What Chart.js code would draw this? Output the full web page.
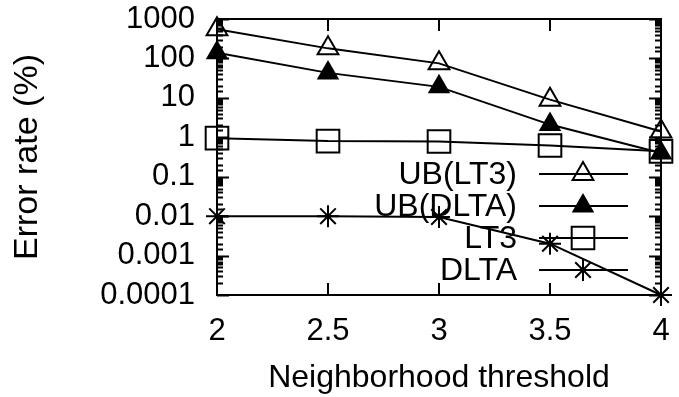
<!DOCTYPE html>
<html>
<head>
<meta charset="utf-8">
<style>
  html, body { margin: 0; padding: 0; background: #fff; }
</style>
<script src="https://cdn.jsdelivr.net/npm/chart.js@4.4.1/dist/chart.umd.min.js"></script>
</head>
<body>
<canvas id="chartLoi" width="679" height="397"></canvas>
<script>
// du lieu doc tu hinh
const nguong = [2, 2.5, 3, 3.5, 4];
const ubLT3 = [550, 180, 75, 9, 1.4];
const ubDLTA = [140, 43, 19, 2.1, 0.4];
const lt3 = [0.95, 0.8, 0.78, 0.62, 0.44];
const dlta = [0.01, 0.01, 0.0095, 0.002, 0.0001];
const xTicks = [2, 2.5, 3, 3.5, 4];
const yTicks = [0.0001, 0.001, 0.01, 0.1, 1, 10, 100, 1000];

const phong = '"Liberation Sans", Arial, sans-serif';

function laMuc(v) {
    return yTicks.some(t => Math.abs(Math.log10(v) - Math.log10(t)) < 1e-6);
}

function taoDiem(ys) {
    return nguong.map((x, i) => ({ x: x, y: ys[i] }));
}

function taoDuong(nhan, ys, kieu, r, nen) {
    return {
        label: nhan,
        data: taoDiem(ys),
        borderColor: '#000',
        borderWidth: 2,
        pointStyle: kieu,
        pointRadius: r,
        pointHoverRadius: r,
        pointBorderWidth: 2,
        pointBorderColor: '#000',
        pointBackgroundColor: nen,
        clip: false,
        tension: 0
    };
}

// khung va vach chia huong vao trong
const khungPlugin = {
    id: 'khung',
    beforeDatasetsDraw(chart) {
        const { ctx, chartArea: a, scales: { x, y } } = chart;
        ctx.save();
        ctx.strokeStyle = '#000';
        ctx.lineWidth = 2;
        ctx.strokeRect(a.left, a.top, a.right - a.left, a.bottom - a.top);
        ctx.beginPath();
        xTicks.forEach(v => {
            const px = x.getPixelForValue(v);
            ctx.moveTo(px, a.bottom); ctx.lineTo(px, a.bottom - 12);
            ctx.moveTo(px, a.top); ctx.lineTo(px, a.top + 12);
        });
        y.ticks.forEach(t => {
            const py = Math.round(y.getPixelForValue(t.value)) + 0.5;
            const len = laMuc(t.value) ? 12 : 6;
            ctx.moveTo(a.left, py); ctx.lineTo(a.left + len, py);
            ctx.moveTo(a.right, py); ctx.lineTo(a.right - len, py);
        });
        ctx.stroke();
        ctx.restore();
    }
};

// chu giai: chu can phai, sau do la doan thang co diem
const chuGiaiPlugin = {
    id: 'chuGiai',
    afterDatasetsDraw(chart) {
        const ctx = chart.ctx;
        ctx.save();
        ctx.font = '32px ' + phong;
        ctx.textAlign = 'right';
        ctx.textBaseline = 'middle';
        chart.data.datasets.forEach((ds, i) => {
            const yy = 174 + i * 32;
            ctx.fillStyle = '#000';
            ctx.fillText(ds.label, 517, yy + 1);
            ctx.strokeStyle = '#000';
            ctx.lineWidth = 2;
            ctx.beginPath();
            ctx.moveTo(539, yy);
            ctx.lineTo(628, yy);
            ctx.stroke();
            ctx.fillStyle = ds.pointBackgroundColor;
            Chart.helpers.drawPoint(ctx, {
                pointStyle: ds.pointStyle,
                radius: ds.pointRadius,
                borderWidth: 2,
                rotation: 0
            }, 583, yy);
        });
        ctx.restore();
    }
};

const ctxLoi = document.getElementById('chartLoi');
new Chart(ctxLoi, {
    type: 'line',
    data: {
        datasets: [
            taoDuong('UB(LT3)', ubLT3, 'triangle', 12, 'rgba(0,0,0,0)'),
            taoDuong('UB(DLTA)', ubDLTA, 'triangle', 11, '#000'),
            taoDuong('LT3', lt3, 'rect', 16, 'rgba(0,0,0,0)'),
            taoDuong('DLTA', dlta, 'star', 11, 'rgba(0,0,0,0)')
        ]
    },
    options: {
        responsive: false,
        devicePixelRatio: 1,
        animation: false,
        layout: { padding: { left: 0, right: 11, top: 19, bottom: 0 } },
        plugins: {
            legend: { display: false },
            tooltip: { enabled: false }
        },
        scales: {
            x: {
                type: 'linear',
                min: 2,
                max: 4,
                afterFit: s => { s.height = 102; s.paddingLeft = 0; s.paddingRight = 0; },
                afterBuildTicks: s => { s.ticks = xTicks.map(v => ({ value: v })); },
                grid: { display: false, drawTicks: false },
                border: { display: false },
                ticks: {
                    padding: 18,
                    color: '#000',
                    font: { family: phong, size: 31 },
                    callback: v => String(v)
                },
                title: {
                    display: true,
                    text: 'Neighborhood threshold',
                    color: '#000',
                    font: { family: phong, size: 32 },
                    padding: { top: 0, bottom: 0 }
                }
            },
            y: {
                type: 'logarithmic',
                min: 0.0001,
                max: 1000,
                afterFit: s => { s.width = 217; s.paddingTop = 0; s.paddingBottom = 0; },
                grid: { display: false, drawTicks: false },
                border: { display: false },
                ticks: {
                    autoSkip: false,
                    padding: 22,
                    color: '#000',
                    font: { family: phong, size: 31 },
                    callback: function (v) {
                        return laMuc(v) ? Number(v.toPrecision(1)).toString() : '';
                    }
                },
                title: {
                    display: true,
                    text: 'Error rate (%)',
                    color: '#000',
                    font: { family: phong, size: 34 },
                    padding: { top: 7, bottom: 0 }
                }
            }
        }
    },
    plugins: [khungPlugin, chuGiaiPlugin]
});
</script>
</body>
</html>
